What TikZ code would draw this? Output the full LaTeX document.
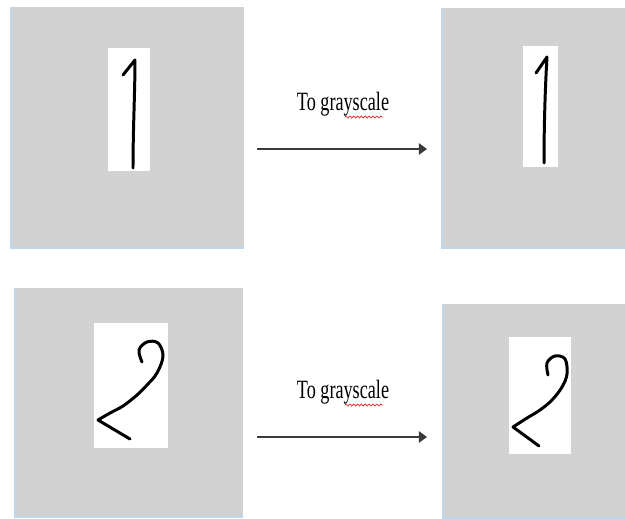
\documentclass[tikz,border=0pt]{standalone}
\usepackage{fontspec}
\setmainfont{Liberation Serif}
\usepackage{graphicx}
\usepackage{tikz}
\usetikzlibrary{arrows.meta, fit, decorations.pathmorphing}
\definecolor{panelgray}{HTML}{D2D2D2}
\definecolor{edgeblue}{HTML}{BDD7EE}
\definecolor{spellred}{HTML}{E03030}
\definecolor{inkgray}{HTML}{3A3A3A}

\begin{document}
\begin{tikzpicture}[
  x=0.02cm, y=-0.02cm,
  panel/.style={rectangle, fill=panelgray, inner sep=0pt, outer sep=0pt},
  sheet/.style={rectangle, fill=white, inner sep=0pt, outer sep=0pt},
  rim/.style={draw=edgeblue, line width=1.5pt},
  ink/.style={draw=black, line width=1.7pt, line cap=round, line join=round},
  arr/.style={-{Triangle[length=4.6pt, width=6.4pt]}, line width=1.1pt, draw=inkgray},
  lbl/.style={font=\fontsize{15}{18}\selectfont, anchor=base, inner sep=0pt},
  squig/.style={draw=spellred, line width=0.4pt, decorate,
                decoration={zigzag, segment length=2.2pt, amplitude=0.6pt}},
]
\useasboundingbox (0,0) rectangle (625,518);
% ---------------- row 1: digit one
\node[panel, fit={(11,7)(244,248)}] (p1) {};
\node[panel, fit={(442,8)(625,248)}] (p2) {};
\draw[rim] (p1.north west) -- (p1.south west) -- (p1.south east);
\draw[rim] (p2.north west) -- (p2.south west) -- (p2.south east);
\node[sheet, fit={(108,48)(150,171)}] (w1) {};
\node[sheet, fit={(523,46)(558,167)}] (w2) {};
\draw[ink] (123,75) -- (135,60) .. controls (135,90) and (133,130) .. (133,168);
\draw[ink] (536,73) -- (547,57) .. controls (545,90) and (544,130) .. (544,163);
% ---------------- row 2: digit two
\node[panel, fit={(15,288)(243,517)}] (p3) {};
\node[panel, fit={(443,304)(625,518)}] (p4) {};
\draw[rim] (p3.north west) -- (p3.south west) -- (p3.south east);
\draw[rim] (p4.north west) -- (p4.south west) -- (p4.south east);
\node[sheet, fit={(94,323)(168,448)}] (w3) {};
\node[sheet, fit={(509,337)(571,454)}] (w4) {};
\draw[ink] plot[smooth, tension=0.6] coordinates {(142,362) (139,350) (147,342)
  (158,343) (163,356) (157,373) (147,385) (137,395) (123,406) (110,413) (98,420)}
  -- (130,439);
\draw[ink] plot[smooth, tension=0.6] coordinates {(548,375) (547,363) (555,356)
  (565,359) (567,374) (562,387) (552,400) (540,410) (527,418) (513,427)}
  -- (539,446);
% ---------------- arrows
\foreach \r/\y in {1/149, 2/437} {
  \coordinate (s\r) at (257,\y);
  \coordinate (e\r) at (427,\y);
  \draw[arr] (s\r) -- (e\r);
  \node[lbl] (t\r) at (343,\y-39) {\scalebox{0.69}[1]{To grayscale}};
  \draw[squig] (345,\y-32) -- (383,\y-32);
}
\end{tikzpicture}
\end{document}
